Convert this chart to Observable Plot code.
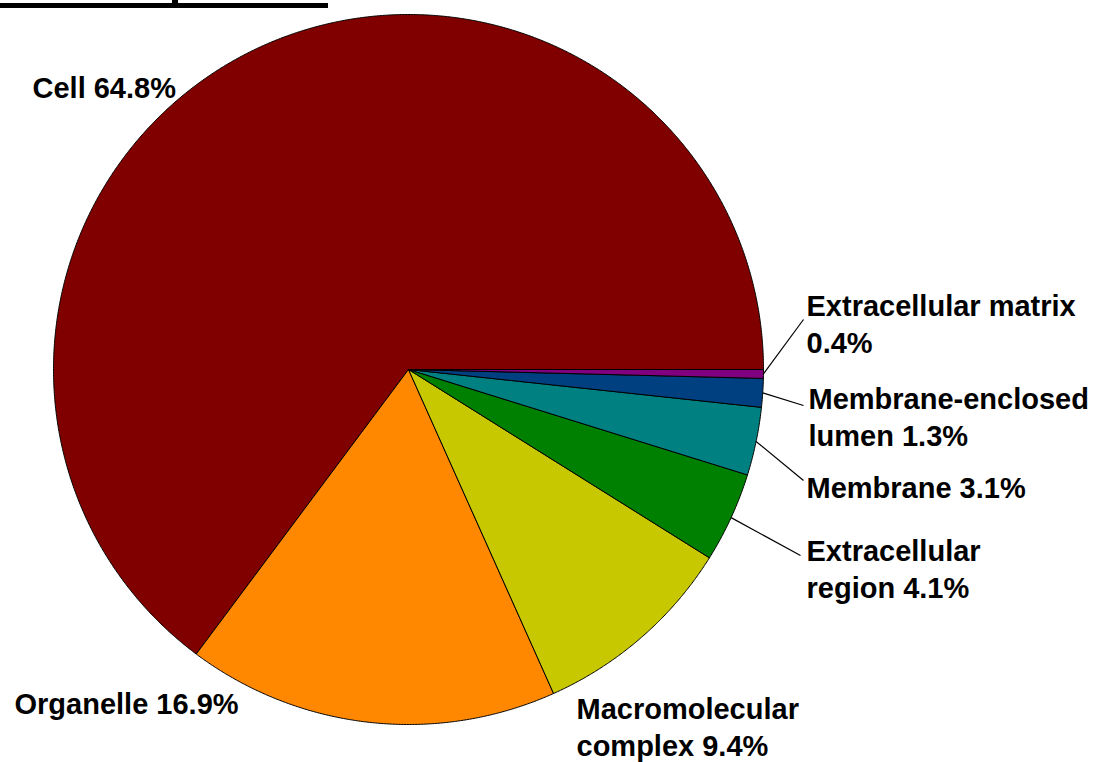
<!DOCTYPE html>
<html>
<head>
<meta charset="utf-8">
<script src="https://cdn.jsdelivr.net/npm/d3@7"></script>
<script src="https://cdn.jsdelivr.net/npm/@observablehq/plot@0.6"></script>
<style>
  html, body { margin: 0; padding: 0; background: #fff; }
  #wrap { position: relative; width: 1095px; height: 762px; overflow: hidden; }
  #rule { position: absolute; left: 0; top: 3px; width: 328px; height: 5px; background: #000; }
  #stub { position: absolute; left: 172px; top: 0; width: 6px; height: 4px; background: #000; }
  #chart { position: absolute; left: 0; top: 0; }
</style>
</head>
<body>
<div id="wrap">
  <div id="chart"></div>
  <div id="rule"></div>
  <div id="stub"></div>
</div>
<script>
// ---- data ----
const categories = ["Cell", "Organelle", "Macromolecular complex", "Extracellular region", "Membrane", "Membrane-enclosed lumen", "Extracellular matrix"];
const percents = [64.8, 16.9, 9.4, 4.1, 3.1, 1.3, 0.4];
const colors = ["#800000", "#ff8800", "#c8c800", "#008000", "#008080", "#004080", "#800080"];
const labelLines = [
  ["Cell 64.8%"],
  ["Organelle 16.9%"],
  ["Macromolecular", "complex 9.4%"],
  ["Extracellular", "region 4.1%"],
  ["Membrane 3.1%"],
  ["Membrane-enclosed", "lumen 1.3%"],
  ["Extracellular matrix", "0.4%"]
];

// ---- layout (pixel units of the plot frame) ----
const W = 1095, H = 762;
const cx = 408, cy = 369, R = 355;
const lineGap = 37.5;
// first-line anchor of each label, and leader-line end (null = no leader)
const labelAnchor = [[32, 97], [14, 713], [576, 718], [806, 560], [806, 497], [808, 408], [806, 315]];
const leaderEnd = [null, null, null, [800, 555], [803, 480], [803, 405], [803, 319]];

// ---- geometry built from the data ----
const total = d3.sum(percents);
const slicePts = [];
const leaders = [];
let acc = 0;
categories.forEach((c, i) => {
  const a0 = acc / total * 2 * Math.PI;
  acc += percents[i];
  const a1 = acc / total * 2 * Math.PI;
  const pt = a => [cx + R * Math.cos(a), cy - R * Math.sin(a)]; // counter-clockwise from east
  slicePts.push({key: c, color: colors[i], x: cx, y: cy});
  const n = Math.max(2, Math.ceil((a1 - a0) / (Math.PI / 720)));
  for (let k = 0; k <= n; k++) {
    const [x, y] = pt(a0 + (a1 - a0) * k / n);
    slicePts.push({key: c, color: colors[i], x, y});
  }
  slicePts.push({key: c, color: colors[i], x: cx, y: cy});
  if (leaderEnd[i]) {
    const [x1, y1] = pt((a0 + a1) / 2);
    leaders.push({x1, y1, x2: leaderEnd[i][0], y2: leaderEnd[i][1]});
  }
});

const labelRows = [];
labelLines.forEach((lines, i) => {
  lines.forEach((t, j) => labelRows.push({text: t, x: labelAnchor[i][0], y: labelAnchor[i][1] + j * lineGap}));
});

const chart = Plot.plot({
  width: W,
  height: H,
  margin: 0,
  x: {domain: [0, W], range: [0, W], axis: null},
  y: {domain: [0, H], range: [0, H], axis: null},
  color: {type: "identity"},
  style: {fontFamily: "'Liberation Sans', Arial, sans-serif", background: "white"},
  marks: [
    Plot.line(slicePts, {x: "x", y: "y", z: "key", fill: "color", stroke: "#000", strokeWidth: 1, strokeLinejoin: "round"}),
    Plot.link(leaders, {x1: "x1", y1: "y1", x2: "x2", y2: "y2", stroke: "#000", strokeWidth: 1.2}),
    Plot.text(labelRows, {x: "x", y: "y", text: "text", textAnchor: "start", lineAnchor: "bottom", fontSize: 29, fontWeight: "bold", fill: "#000"})
  ]
});
document.getElementById("chart").appendChild(chart);
</script>
</body>
</html>
